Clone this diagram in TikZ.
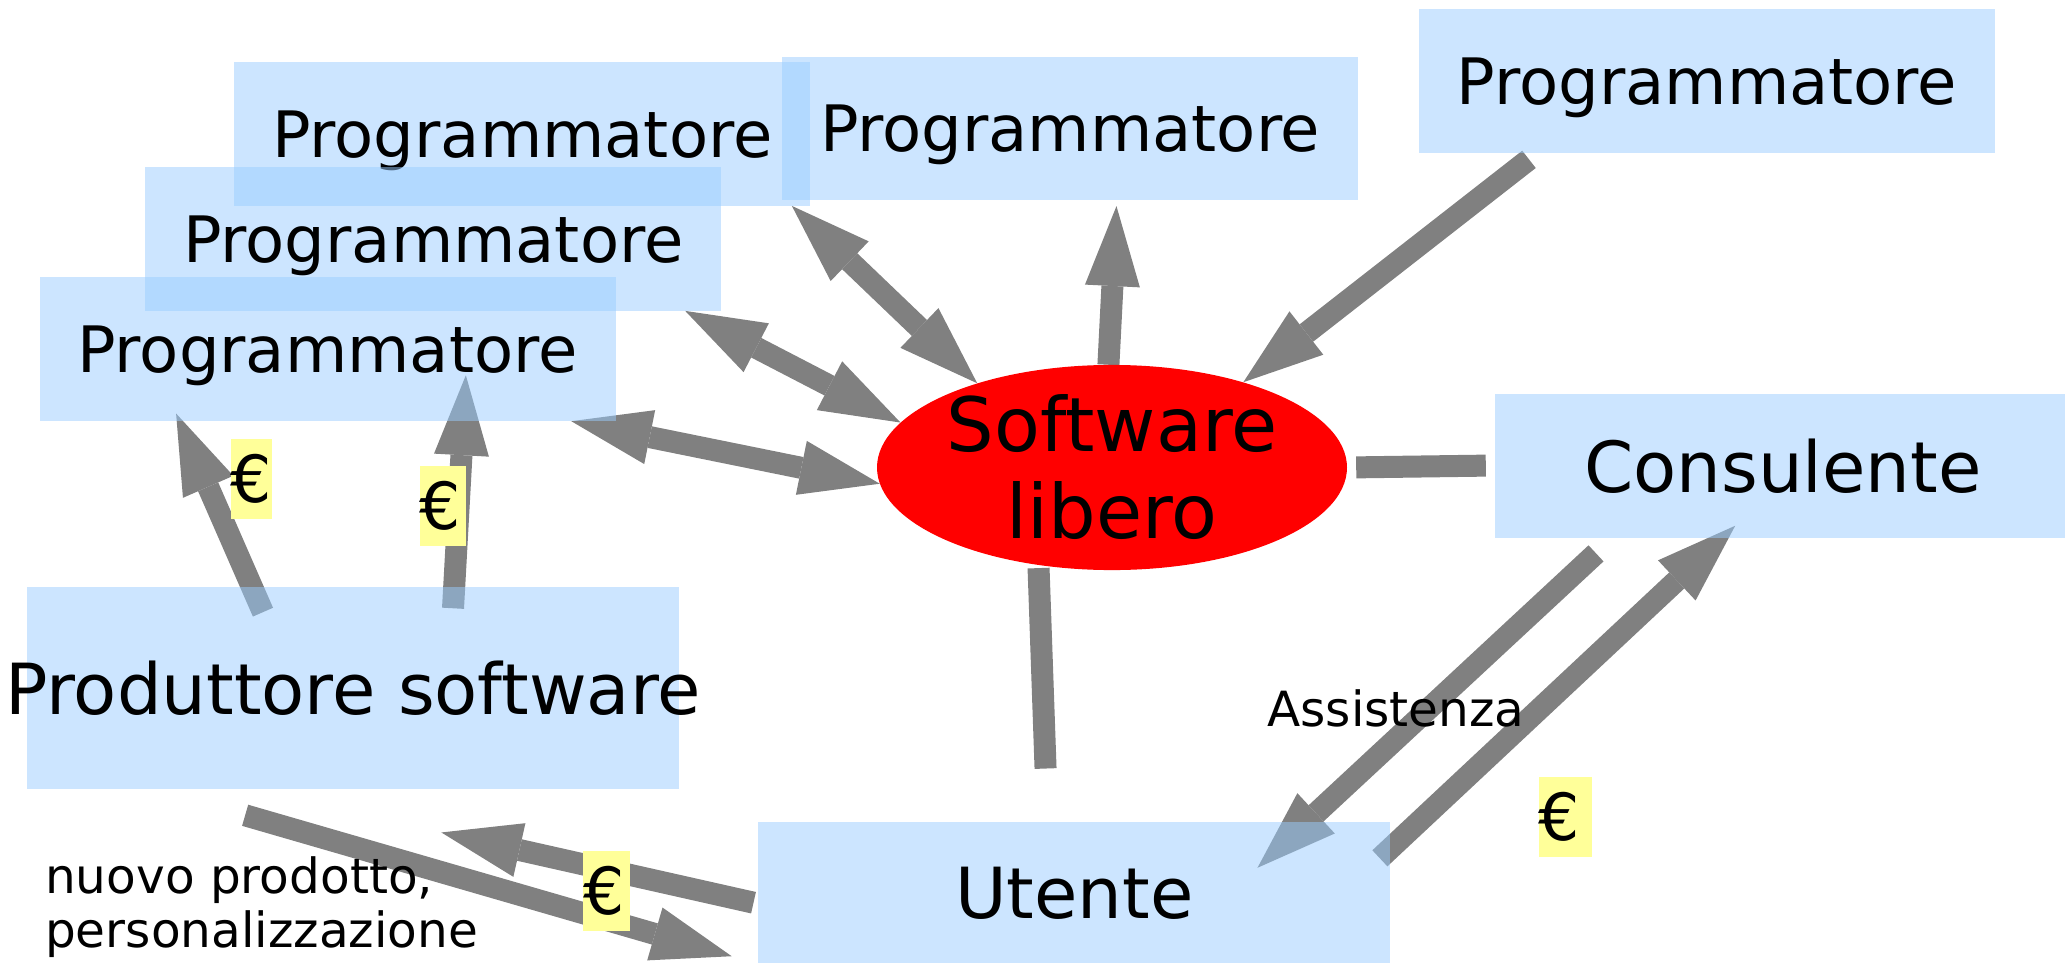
\documentclass[tikz,border=0pt]{standalone}
\usepackage{xcolor}
\usepackage{fontspec}
\setmainfont{DejaVu Sans}
\usepackage{tikz}
\usetikzlibrary{arrows.meta, positioning, backgrounds, calc, shapes}
\definecolor{grigio}{RGB}{128,128,128}
\definecolor{azzurro}{RGB}{153,204,255}
\definecolor{giallo}{RGB}{255,255,153}
\tikzstyle{prog} = [rectangle, minimum width=576pt, minimum height=144pt, inner sep=0pt, text depth=0pt, fill=azzurro, fill opacity=0.5, text opacity=1, font=\fontsize{64}{76}\selectfont]
\tikzstyle{attore} = [prog, font=\fontsize{70.5}{82}\selectfont]
\tikzstyle{libero} = [ellipse, fill=red, inner sep=0pt, minimum width=470pt, minimum height=202pt, align=center, font=\fontsize{75}{87}\selectfont]
\tikzstyle{euro} = [fill=giallo, inner sep=0pt, minimum height=80pt, align=left, font=\fontsize{65}{76}\selectfont]
\tikzstyle{testo} = [inner sep=0pt, font=\fontsize{48.5}{54}\selectfont]
\tikzstyle{linea} = [line width=22pt, draw=grigio]
\tikzstyle{freccia} = [linea, -{Triangle[length=80pt 0 0, width=55pt 0 0, line width=0pt 0 0]}]
\tikzstyle{doppia} = [linea, {Triangle[length=80pt 0 0, width=55pt 0 0, line width=0pt 0 0]}-{Triangle[length=80pt 0 0, width=55pt 0 0, line width=0pt 0 0]}]

\begin{document}
\begin{tikzpicture}[x=1pt, y=-1pt]
    \useasboundingbox (0,0) rectangle (2065,963);

    % Programmatori
    \node (p1) [prog] at (522.4,133.7) {Programmatore};
    \node (p2) [prog, minimum height=143pt] at (1070.2,128.4) {Programmatore};
    \node (p3) [prog] at (1707,81) {Programmatore};
    \node (p4) [prog] at (433.4,238.7) {Programmatore};
    \node (p5) [prog] at (327.5,349) {Programmatore};

    % Software libero
    \node (sl) [libero] at (1112,467.5) {Software\\libero};

    % Consulente, produttore, utente
    \node (cons) [attore] at (1783,465.5) {Consulente};
    \node (prod) [attore, minimum width=652pt, minimum height=202pt, inner xsep=-26pt] at (353,687.8) {Produttore software};
    \node (utente) [attore, minimum width=632pt, minimum height=142pt] at (1074.4,892.7) {Utente};

    % Etichette
    \node (assist) [testo] at (1396,708) {Assistenza};
    \node (nuovo) [testo, anchor=north west, align=left] at (45,856) {nuovo prodotto,\\personalizzazione};
    \node (e1) [euro, text width=41pt] at (251,478.5) {€};
    \node (e2) [euro, text width=46pt] at (442.5,505.7) {€};
    \node (e3) [euro, text width=47pt] at (606.6,891.3) {€};
    \node (e4) [euro, text width=53pt] at (1565,817.2) {€};

    % Frecce
    \begin{scope}[on background layer]
        \draw [doppia] (p1.-15) -- (sl.148);
        \draw [doppia] (p4.-16) -- (sl.168);
        \draw [doppia] ([xshift=-8pt]p5.-16) -- (sl.184);
        \draw [freccia, shorten >=6pt] (sl.92) -- (p2.-57);
        \draw [freccia, shorten <=10pt] (p3.-157) -- (sl.33);
        \draw [linea, shorten <=9pt, shorten >=9pt] (sl.east) -- (cons.west);
        \draw [linea, shorten <=3pt, shorten >=53pt] (sl.-127) -- ([xshift=-27pt]utente.north);
        \draw [freccia, shorten <=23pt, shorten >=-68pt] (cons.-157) -- (utente.17);
        \draw [freccia, shorten <=-14.7pt, shorten >=-17.5pt] (utente.8) -- (cons.-130);
        \draw [freccia, shorten <=-27.9pt, shorten >=-8.4pt] (prod.135) -- (p5.-154);
        \draw [freccia, shorten <=-21.7pt, shorten >=-46pt] (prod.45) -- (p5.-28);
        \draw [freccia, shorten <=4.8pt, shorten >=198pt] (utente.182) -- (prod.-136);
        \draw [freccia, shorten <=94.5pt, shorten >=27.6pt] (prod.-153) -- (utente.south west);
    \end{scope}
\end{tikzpicture}
\end{document}
